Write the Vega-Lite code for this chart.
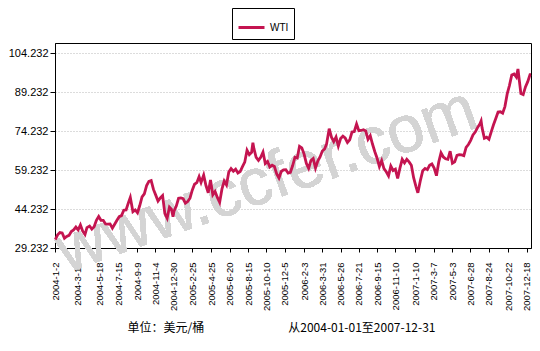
{
  "$schema": "https://vega.github.io/schema/vega-lite/v6.json",
  "width": 476,
  "height": 205,
  "autosize": {"type": "none"},
  "padding": {"left": 55, "top": 43, "right": 9, "bottom": 103},
  "background": "white",
  "config": {
    "view": {"stroke": "black", "strokeWidth": 1},
    "font": "Liberation Sans",
    "axisX": {"labelOverlap": false, "labelBound": false, "labelFlush": false}
  },
  "data": {
    "values": [
      {"date": "2004-01-02", "price": 32.5}, {"date": "2004-01-09", "price": 34.3}, {"date": "2004-01-16", "price": 35.2}, {"date": "2004-01-23", "price": 35.0}, {"date": "2004-01-30", "price": 33.0},
      {"date": "2004-02-06", "price": 33.7}, {"date": "2004-02-13", "price": 34.1}, {"date": "2004-02-20", "price": 35.6}, {"date": "2004-02-27", "price": 36.2},
      {"date": "2004-03-05", "price": 37.3}, {"date": "2004-03-12", "price": 36.2}, {"date": "2004-03-19", "price": 38.1}, {"date": "2004-03-26", "price": 35.7},
      {"date": "2004-04-02", "price": 34.4}, {"date": "2004-04-08", "price": 37.1}, {"date": "2004-04-16", "price": 37.7}, {"date": "2004-04-23", "price": 36.5}, {"date": "2004-04-30", "price": 37.4},
      {"date": "2004-05-07", "price": 39.9}, {"date": "2004-05-14", "price": 41.4}, {"date": "2004-05-21", "price": 39.9}, {"date": "2004-05-28", "price": 39.9},
      {"date": "2004-06-04", "price": 38.5}, {"date": "2004-06-11", "price": 38.4}, {"date": "2004-06-18", "price": 38.5}, {"date": "2004-06-25", "price": 36.9},
      {"date": "2004-07-02", "price": 38.4}, {"date": "2004-07-09", "price": 39.9}, {"date": "2004-07-16", "price": 41.3}, {"date": "2004-07-23", "price": 41.7}, {"date": "2004-07-30", "price": 43.8},
      {"date": "2004-08-06", "price": 43.9}, {"date": "2004-08-13", "price": 46.6}, {"date": "2004-08-19", "price": 48.7}, {"date": "2004-08-27", "price": 43.2},
      {"date": "2004-09-03", "price": 43.9}, {"date": "2004-09-10", "price": 42.8}, {"date": "2004-09-17", "price": 45.6}, {"date": "2004-09-24", "price": 48.9},
      {"date": "2004-10-01", "price": 50.1}, {"date": "2004-10-08", "price": 53.3}, {"date": "2004-10-15", "price": 54.9}, {"date": "2004-10-22", "price": 55.2}, {"date": "2004-10-29", "price": 51.8},
      {"date": "2004-11-05", "price": 49.6}, {"date": "2004-11-12", "price": 47.3}, {"date": "2004-11-19", "price": 48.5}, {"date": "2004-11-26", "price": 49.4},
      {"date": "2004-12-03", "price": 42.5}, {"date": "2004-12-10", "price": 40.7}, {"date": "2004-12-17", "price": 45.0}, {"date": "2004-12-23", "price": 44.2}, {"date": "2004-12-28", "price": 41.3}, {"date": "2004-12-31", "price": 43.4},
      {"date": "2005-01-07", "price": 45.4}, {"date": "2005-01-14", "price": 48.4}, {"date": "2005-01-21", "price": 48.5}, {"date": "2005-01-28", "price": 48.2},
      {"date": "2005-02-04", "price": 46.5}, {"date": "2005-02-11", "price": 47.1}, {"date": "2005-02-18", "price": 48.4}, {"date": "2005-02-25", "price": 51.5},
      {"date": "2005-03-04", "price": 53.8}, {"date": "2005-03-11", "price": 54.4}, {"date": "2005-03-18", "price": 56.7}, {"date": "2005-03-24", "price": 54.5},
      {"date": "2005-04-01", "price": 57.3}, {"date": "2005-04-08", "price": 53.3}, {"date": "2005-04-15", "price": 50.5}, {"date": "2005-04-22", "price": 55.4}, {"date": "2005-04-29", "price": 49.7},
      {"date": "2005-05-06", "price": 51.0}, {"date": "2005-05-13", "price": 48.7}, {"date": "2005-05-20", "price": 46.8}, {"date": "2005-05-27", "price": 51.9},
      {"date": "2005-06-03", "price": 55.0}, {"date": "2005-06-10", "price": 53.5}, {"date": "2005-06-17", "price": 58.5}, {"date": "2005-06-24", "price": 59.8},
      {"date": "2005-07-01", "price": 58.8}, {"date": "2005-07-08", "price": 59.6}, {"date": "2005-07-15", "price": 58.1}, {"date": "2005-07-22", "price": 58.7}, {"date": "2005-07-29", "price": 60.6},
      {"date": "2005-08-05", "price": 62.3}, {"date": "2005-08-12", "price": 66.9}, {"date": "2005-08-19", "price": 65.2}, {"date": "2005-08-26", "price": 66.1}, {"date": "2005-08-30", "price": 69.8},
      {"date": "2005-09-02", "price": 67.6}, {"date": "2005-09-09", "price": 64.1}, {"date": "2005-09-16", "price": 63.0}, {"date": "2005-09-23", "price": 64.2}, {"date": "2005-09-30", "price": 66.2},
      {"date": "2005-10-07", "price": 61.8}, {"date": "2005-10-14", "price": 62.6}, {"date": "2005-10-21", "price": 60.4}, {"date": "2005-10-28", "price": 61.1},
      {"date": "2005-11-04", "price": 60.6}, {"date": "2005-11-11", "price": 57.8}, {"date": "2005-11-18", "price": 56.2}, {"date": "2005-11-25", "price": 58.7},
      {"date": "2005-12-02", "price": 59.3}, {"date": "2005-12-09", "price": 59.4}, {"date": "2005-12-16", "price": 58.1}, {"date": "2005-12-23", "price": 58.4}, {"date": "2005-12-30", "price": 61.0},
      {"date": "2006-01-06", "price": 64.2}, {"date": "2006-01-13", "price": 63.9}, {"date": "2006-01-20", "price": 68.4}, {"date": "2006-01-27", "price": 67.8},
      {"date": "2006-02-03", "price": 65.4}, {"date": "2006-02-10", "price": 61.8}, {"date": "2006-02-17", "price": 59.9}, {"date": "2006-02-24", "price": 62.9},
      {"date": "2006-03-03", "price": 63.7}, {"date": "2006-03-10", "price": 60.0}, {"date": "2006-03-17", "price": 62.7}, {"date": "2006-03-24", "price": 64.3}, {"date": "2006-03-31", "price": 66.6},
      {"date": "2006-04-07", "price": 67.4}, {"date": "2006-04-13", "price": 69.3}, {"date": "2006-04-21", "price": 75.2}, {"date": "2006-04-28", "price": 71.9},
      {"date": "2006-05-05", "price": 70.2}, {"date": "2006-05-12", "price": 72.0}, {"date": "2006-05-19", "price": 68.5}, {"date": "2006-05-26", "price": 71.4},
      {"date": "2006-06-02", "price": 72.3}, {"date": "2006-06-09", "price": 71.6}, {"date": "2006-06-16", "price": 69.9}, {"date": "2006-06-23", "price": 70.9}, {"date": "2006-06-30", "price": 73.9},
      {"date": "2006-07-07", "price": 74.1}, {"date": "2006-07-14", "price": 77.0}, {"date": "2006-07-21", "price": 74.4}, {"date": "2006-07-28", "price": 74.5},
      {"date": "2006-08-04", "price": 74.8}, {"date": "2006-08-11", "price": 74.3}, {"date": "2006-08-18", "price": 71.1}, {"date": "2006-08-25", "price": 72.5},
      {"date": "2006-09-01", "price": 69.2}, {"date": "2006-09-08", "price": 66.3}, {"date": "2006-09-15", "price": 63.8}, {"date": "2006-09-22", "price": 60.6}, {"date": "2006-09-29", "price": 62.9},
      {"date": "2006-10-06", "price": 59.8}, {"date": "2006-10-13", "price": 58.6}, {"date": "2006-10-20", "price": 57.0}, {"date": "2006-10-27", "price": 60.8},
      {"date": "2006-11-03", "price": 59.1}, {"date": "2006-11-10", "price": 59.6}, {"date": "2006-11-17", "price": 56.0}, {"date": "2006-11-24", "price": 60.0},
      {"date": "2006-12-01", "price": 63.4}, {"date": "2006-12-08", "price": 62.0}, {"date": "2006-12-15", "price": 63.4}, {"date": "2006-12-22", "price": 62.4}, {"date": "2006-12-29", "price": 61.1},
      {"date": "2007-01-05", "price": 56.3}, {"date": "2007-01-12", "price": 53.0}, {"date": "2007-01-18", "price": 50.5}, {"date": "2007-01-26", "price": 55.4},
      {"date": "2007-02-02", "price": 59.0}, {"date": "2007-02-09", "price": 59.9}, {"date": "2007-02-16", "price": 59.4}, {"date": "2007-02-23", "price": 61.1},
      {"date": "2007-03-02", "price": 61.6}, {"date": "2007-03-09", "price": 60.0}, {"date": "2007-03-16", "price": 57.1}, {"date": "2007-03-23", "price": 62.3}, {"date": "2007-03-30", "price": 65.9},
      {"date": "2007-04-06", "price": 64.3}, {"date": "2007-04-13", "price": 63.6}, {"date": "2007-04-20", "price": 63.4}, {"date": "2007-04-27", "price": 66.5},
      {"date": "2007-05-04", "price": 61.9}, {"date": "2007-05-11", "price": 62.4}, {"date": "2007-05-18", "price": 64.9}, {"date": "2007-05-25", "price": 65.2},
      {"date": "2007-06-01", "price": 65.1}, {"date": "2007-06-08", "price": 64.8}, {"date": "2007-06-15", "price": 68.0}, {"date": "2007-06-22", "price": 69.1}, {"date": "2007-06-29", "price": 70.7},
      {"date": "2007-07-06", "price": 72.8}, {"date": "2007-07-13", "price": 73.9}, {"date": "2007-07-20", "price": 75.6}, {"date": "2007-07-27", "price": 77.0}, {"date": "2007-07-31", "price": 78.2},
      {"date": "2007-08-03", "price": 75.5}, {"date": "2007-08-10", "price": 71.5}, {"date": "2007-08-17", "price": 71.9}, {"date": "2007-08-24", "price": 71.1}, {"date": "2007-08-31", "price": 74.0},
      {"date": "2007-09-07", "price": 76.7}, {"date": "2007-09-14", "price": 79.1}, {"date": "2007-09-21", "price": 81.6}, {"date": "2007-09-28", "price": 81.7},
      {"date": "2007-10-05", "price": 81.2}, {"date": "2007-10-12", "price": 83.7}, {"date": "2007-10-19", "price": 88.6}, {"date": "2007-10-26", "price": 91.9},
      {"date": "2007-11-02", "price": 95.9}, {"date": "2007-11-09", "price": 96.3}, {"date": "2007-11-16", "price": 95.1}, {"date": "2007-11-21", "price": 98.2}, {"date": "2007-11-30", "price": 88.7},
      {"date": "2007-12-07", "price": 88.3}, {"date": "2007-12-14", "price": 91.3}, {"date": "2007-12-21", "price": 93.3}, {"date": "2007-12-28", "price": 96.0}, {"date": "2007-12-31", "price": 96.0}
    ]
  },
  "layer": [
    {
      "mark": {"type": "text", "text": "www.ccfer.com", "font": "Liberation Sans", "fontSize": 66, "angle": -19.5, "align": "center", "baseline": "alphabetic", "color": "#d4d4d4"},
      "encoding": {
        "x": {"datum": {"year": 2005, "month": 11, "date": 1, "utc": true}, "type": "temporal"},
        "y": {"datum": 47.9, "type": "quantitative"}
      }
    },
    {
      "mark": {"type": "line", "strokeWidth": 2.8, "interpolate": "linear"},
      "encoding": {
        "x": {
          "field": "date",
          "type": "temporal",
          "scale": {"type": "utc", "domain": [{"year": 2004, "month": 1, "date": 1, "utc": true}, {"year": 2007, "month": 12, "date": 31, "utc": true}]},
          "axis": {
            "values": [
              {"year": 2004, "month": 1, "date": 2, "utc": true}, {"year": 2004, "month": 3, "date": 10, "utc": true}, {"year": 2004, "month": 5, "date": 18, "utc": true},
              {"year": 2004, "month": 7, "date": 15, "utc": true}, {"year": 2004, "month": 9, "date": 9, "utc": true}, {"year": 2004, "month": 11, "date": 4, "utc": true},
              {"year": 2004, "month": 12, "date": 30, "utc": true}, {"year": 2005, "month": 2, "date": 25, "utc": true}, {"year": 2005, "month": 4, "date": 25, "utc": true},
              {"year": 2005, "month": 6, "date": 20, "utc": true}, {"year": 2005, "month": 8, "date": 15, "utc": true}, {"year": 2005, "month": 10, "date": 10, "utc": true},
              {"year": 2005, "month": 12, "date": 5, "utc": true}, {"year": 2006, "month": 2, "date": 3, "utc": true}, {"year": 2006, "month": 3, "date": 31, "utc": true},
              {"year": 2006, "month": 5, "date": 26, "utc": true}, {"year": 2006, "month": 7, "date": 21, "utc": true}, {"year": 2006, "month": 9, "date": 15, "utc": true},
              {"year": 2006, "month": 11, "date": 10, "utc": true}, {"year": 2007, "month": 1, "date": 10, "utc": true}, {"year": 2007, "month": 3, "date": 7, "utc": true},
              {"year": 2007, "month": 5, "date": 3, "utc": true}, {"year": 2007, "month": 6, "date": 28, "utc": true}, {"year": 2007, "month": 8, "date": 24, "utc": true},
              {"year": 2007, "month": 10, "date": 22, "utc": true}, {"year": 2007, "month": 12, "date": 18, "utc": true}
            ],
            "tickCount": 40,
            "labelExpr": "utcFormat(datum.value, '%Y-%-m-%-d')",
            "labelAngle": 270,
            "labelAlign": "right",
            "labelBaseline": "middle",
            "labelFont": "Liberation Sans",
            "labelFontSize": 9.5,
            "labelColor": "black",
            "labelPadding": 10,
            "labelOverlap": false,
            "labelFlush": false,
            "tickSize": 4,
            "tickColor": "black",
            "domainColor": "black",
            "grid": false,
            "title": "单位：美元/桶\u3000\u3000\u3000\u3000\u3000\u3000\u3000从2004-01-01至2007-12-31",
            "titleFont": "Noto Sans CJK SC",
            "titleFontSize": 12,
            "titleFontWeight": "normal",
            "titleColor": "black",
            "titlePadding": 12,
            "titleX": 226
          }
        },
        "y": {
          "field": "price",
          "type": "quantitative",
          "scale": {"domain": [29.232, 108.2], "nice": false, "zero": false},
          "axis": {
            "values": [29.232, 44.232, 59.232, 74.232, 89.232, 104.232],
            "tickCount": 10,
            "format": ".3f",
            "title": null,
            "grid": true,
            "gridColor": "#b8b8b8",
            "gridDash": [1, 2],
            "tickSize": 5,
            "tickColor": "black",
            "domainColor": "black",
            "labelFont": "Liberation Sans",
            "labelFontSize": 11,
            "labelColor": "black",
            "labelPadding": 2
          }
        },
        "color": {
          "datum": "WTI",
          "type": "nominal",
          "scale": {"range": ["#C41450"]},
          "legend": {
            "orient": "none",
            "legendX": 177,
            "legendY": -35,
            "direction": "horizontal",
            "title": null,
            "strokeColor": "black",
            "padding": 5,
            "symbolType": "stroke",
            "symbolSize": 676,
            "symbolStrokeWidth": 3,
            "symbolOffset": 0,
            "labelFont": "Liberation Sans",
            "labelFontSize": 10,
            "labelColor": "black",
            "labelOffset": 4
          }
        }
      }
    }
  ]
}
